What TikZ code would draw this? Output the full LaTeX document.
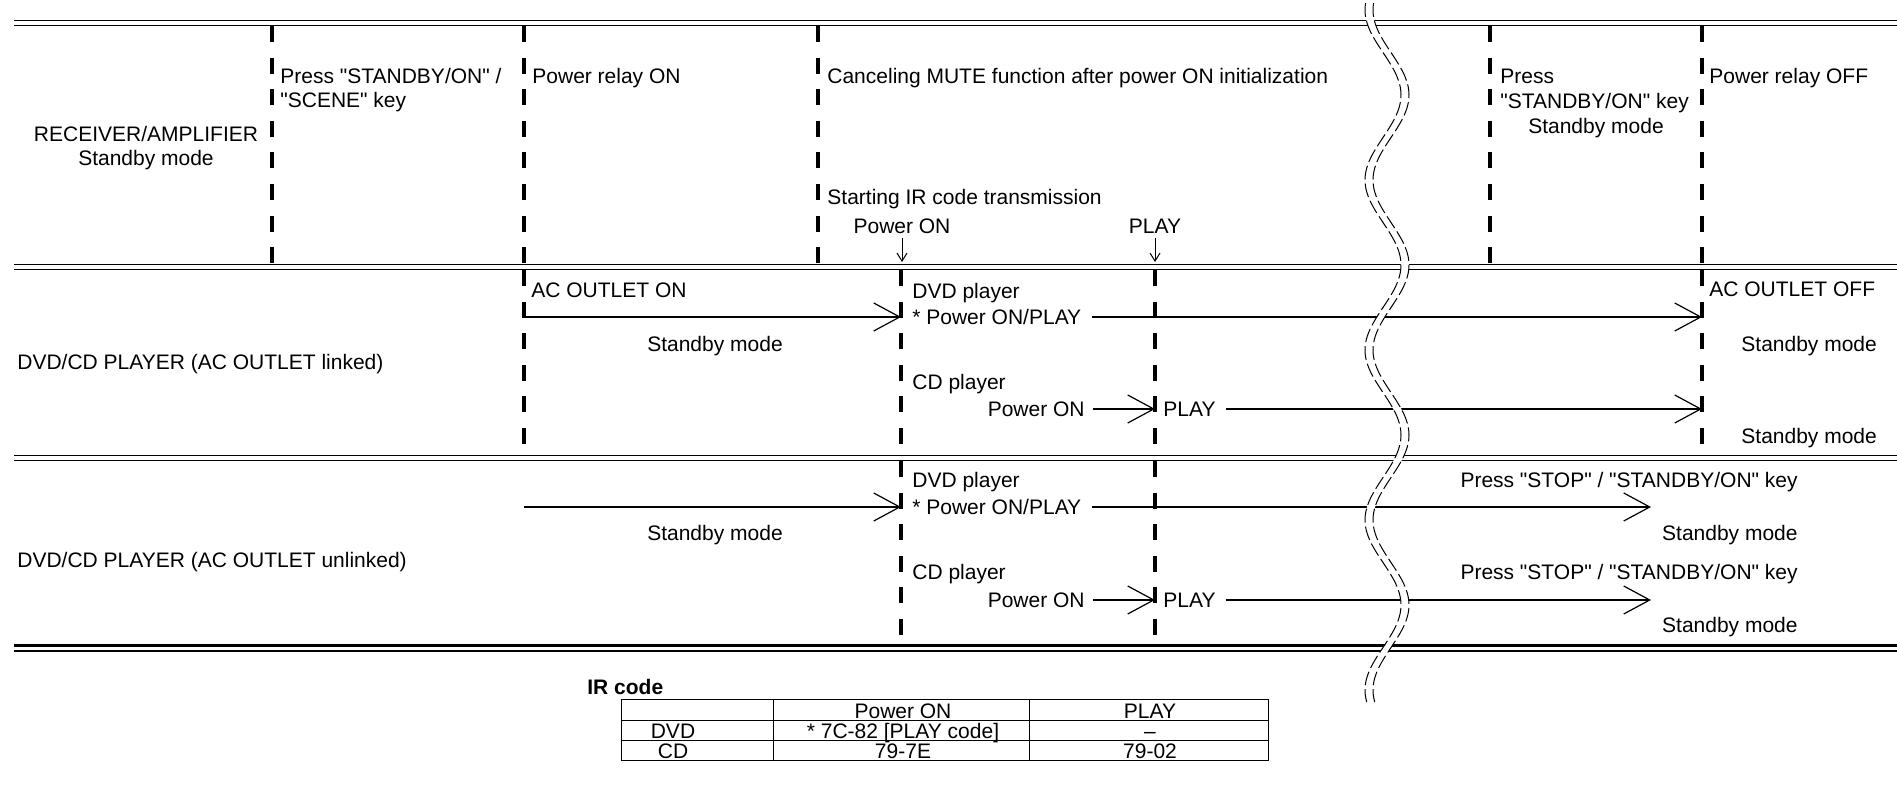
\documentclass[tikz,border=0pt]{standalone}
\usepackage{fontspec}
\setmainfont{Liberation Sans}[Ligatures=TeXOff]
\usetikzlibrary{arrows.meta}
\begin{document}
\begin{tikzpicture}[x=0.5pt,y=-0.5pt,
  t/.style={inner sep=0pt, text height=7.5pt, text depth=0pt, font=\fontsize{10.5}{12.6}\selectfont},
  hl/.style={line width=0.7pt},
  hlb/.style={line width=1.25pt},
  dashv/.style={line width=2pt, dash pattern=on 8pt off 7.8pt},
  arr/.style={line width=0.6pt, -{Straight Barb[length=13pt,width=14pt,line width=0.6pt]}},
  darr/.style={line width=0.5pt, -{Straight Barb[length=4pt,width=5pt,line width=0.5pt]}},
  wave/.style={line width=0.5pt, dash pattern=on 7pt off 2pt},
  tab/.style={line width=0.5pt}]
\useasboundingbox (0,0) rectangle (1897,785);

% ---------- horizontal rules ----------
\coordinate (L0a) at (14,20.5);  \coordinate (R0a) at (1897,20.5);
\coordinate (L0b) at (14,25.5);  \coordinate (R0b) at (1897,25.5);
\coordinate (L1a) at (14,264.5); \coordinate (R1a) at (1897,264.5);
\coordinate (L1b) at (14,269.5); \coordinate (R1b) at (1897,269.5);
\coordinate (L2a) at (14,455.5); \coordinate (R2a) at (1897,455.5);
\coordinate (L2b) at (14,460.5); \coordinate (R2b) at (1897,460.5);
\coordinate (L3a) at (14,645.5); \coordinate (R3a) at (1897,645.5);
\coordinate (L3b) at (14,651);   \coordinate (R3b) at (1897,651);
\draw[hl] (L0a) -- (R0a);
\draw[hl] (L0b) -- (R0b);
\draw[hl] (L1a) -- (R1a);
\draw[hl] (L1b) -- (R1b);
\draw[hl] (L2a) -- (R2a);
\draw[hl] (L2b) -- (R2b);
\draw[hlb] (L3a) -- (R3a);
\draw[hlb] (L3b) -- (R3b);

% ---------- vertical dashed lines ----------
% row 1
\coordinate (v1t) at (272,26);  \coordinate (v1b) at (272,264);
\coordinate (v2t) at (524,26);  \coordinate (v2b) at (524,264);
\coordinate (v3t) at (818,26);  \coordinate (v3b) at (818,264);
\coordinate (v6t) at (1490,26); \coordinate (v6b) at (1490,264);
\coordinate (v7t) at (1702,26); \coordinate (v7b) at (1702,264);
\draw[dashv] (v1t) -- (v1b);
\draw[dashv] (v2t) -- (v2b);
\draw[dashv] (v3t) -- (v3b);
\draw[dashv] (v6t) -- (v6b);
\draw[dashv] (v7t) -- (v7b);
% row 2
\coordinate (w2t) at (524,270);  \coordinate (w2b) at (524,455);
\coordinate (w4t) at (901,270);  \coordinate (w4b) at (901,455);
\coordinate (w5t) at (1155,270); \coordinate (w5b) at (1155,455);
\coordinate (w7t) at (1702,270); \coordinate (w7b) at (1702,455);
\draw[dashv] (w2t) -- (w2b);
\draw[dashv] (w4t) -- (w4b);
\draw[dashv] (w5t) -- (w5b);
\draw[dashv] (w7t) -- (w7b);
% row 3
\coordinate (u4t) at (901,461);  \coordinate (u4b) at (901,645);
\coordinate (u5t) at (1155,461); \coordinate (u5b) at (1155,645);
\draw[dashv] (u4t) -- (u4b);
\draw[dashv] (u5t) -- (u5b);

% ---------- row 1: receiver ----------
\node[t] (recv) at (146,134) {RECEIVER/AMPLIFIER};
\node[t] (recvsb) at (146,158) {Standby mode};
\node[t,anchor=west] (press1) at (280,76) {Press "STANDBY/ON" /};
\node[t,anchor=west] (scene) at (280,100) {"SCENE" key};
\node[t,anchor=west] (relayon) at (532,76) {Power relay ON};
\node[t,anchor=west] (cancel) at (827,76) {Canceling MUTE function after power ON initialization};
\node[t,anchor=west] (irstart) at (827,197) {Starting IR code transmission};
\node[t] (pon) at (902,226) {Power ON};
\node[t] (play) at (1155,226) {PLAY};
\node[t,anchor=west] (press2) at (1500,76) {Press};
\node[t,anchor=west] (press2b) at (1500,101) {"STANDBY/ON" key};
\node[t] (sb1) at (1596,126) {Standby mode};
\node[t,anchor=west] (relayoff) at (1709,76) {Power relay OFF};
\coordinate (ponA) at (902,262);
\coordinate (playA) at (1155,262);
\draw[darr] ([yshift=-2pt]pon.south) -- (ponA);
\draw[darr] ([yshift=-2pt]play.south) -- (playA);

% ---------- row 2: linked ----------
\node[t,anchor=west] (lnk) at (17,362) {DVD/CD PLAYER (AC OUTLET linked)};
\node[t,anchor=west] (acon) at (531,290) {AC OUTLET ON};
\coordinate (r2s) at (524,317);
\node[t] (sb2) at (715,344) {Standby mode};
\node[t,anchor=west] (dvd2) at (912,291) {DVD player};
\node[t,anchor=west] (dvdpp2) at (912,317) {* Power ON/PLAY};
\node[t,anchor=west] (cd2) at (912,382) {CD player};
\node[t,anchor=east] (cdpon2) at (1085,409) {Power ON};
\node[t,anchor=west] (cdplay2) at (1163,409) {PLAY};
\node[t,anchor=west] (acoff) at (1709,289) {AC OUTLET OFF};
\node[t,anchor=west] (sb2r1) at (1741,344) {Standby mode};
\node[t,anchor=west] (sb2r2) at (1741,436) {Standby mode};
\draw[arr] (r2s) -- (r2s -| w4t);
\draw[arr] ([xshift=5pt]dvdpp2.east) -- (dvdpp2.east -| w7t);
\draw[arr] ([xshift=4pt]cdpon2.east) -- (cdpon2.east -| w5t);
\draw[arr] ([xshift=5pt]cdplay2.east) -- (cdplay2.east -| w7t);

% ---------- row 3: unlinked ----------
\node[t,anchor=west] (unl) at (17,560) {DVD/CD PLAYER (AC OUTLET unlinked)};
\coordinate (r3s) at (524,507);
\coordinate (e3) at (1651,507);
\node[t] (sb3) at (715,533) {Standby mode};
\node[t,anchor=west] (dvd3) at (912,480) {DVD player};
\node[t,anchor=west] (dvdpp3) at (912,507) {* Power ON/PLAY};
\node[t,anchor=west] (cd3) at (912,572) {CD player};
\node[t,anchor=east] (cdpon3) at (1085,600) {Power ON};
\node[t,anchor=west] (cdplay3) at (1163,600) {PLAY};
\node[t,anchor=east] (stop1) at (1798,480) {Press "STOP" / "STANDBY/ON" key};
\node[t,anchor=east] (sb3r1) at (1798,533) {Standby mode};
\node[t,anchor=east] (stop2) at (1798,572) {Press "STOP" / "STANDBY/ON" key};
\node[t,anchor=east] (sb3r2) at (1798,625) {Standby mode};
\draw[arr] (r3s) -- (r3s -| u4t);
\draw[arr] ([xshift=5pt]dvdpp3.east) -- (e3);
\draw[arr] ([xshift=4pt]cdpon3.east) -- (cdpon3.east -| u5t);
\draw[arr] ([xshift=5pt]cdplay3.east) -- (cdplay3.east -| e3);

% ---------- break symbol ----------
\fill[white] plot[domain=3:702,samples=200] ({1383-18*cos((\x-10)*2.1176)},\x)
  -- plot[domain=702:3,samples=200] ({1391-18*cos((\x-10)*2.1176)},\x) -- cycle;
\draw[wave] plot[domain=3:702,samples=200,smooth] ({1383-18*cos((\x-10)*2.1176)},\x);
\draw[wave] plot[domain=3:702,samples=200,smooth] ({1391-18*cos((\x-10)*2.1176)},\x);

% ---------- IR code table ----------
\node[t,anchor=west,font=\fontsize{10.5}{12.6}\selectfont\bfseries] (irc) at (587,687) {IR code};
\draw[tab] (621,700) rectangle (1268,761);
\draw[tab] (621,721) -- (1268,721);
\draw[tab] (621,741) -- (1268,741);
\draw[tab] (773,700) -- (773,761);
\draw[tab] (1029,700) -- (1029,761);
\node[t] (hpon) at (903,711) {Power ON};
\node[t] (hplay) at (1150,711) {PLAY};
\node[t] (cdvd) at (673,731) {DVD};
\node[t] (dvdpon) at (903,731) {* 7C-82 [PLAY code]};
\node[t] (dvdplay) at (1150,731) {–};
\node[t] (ccd) at (673,751) {CD};
\node[t] (cdponv) at (903,751) {79-7E};
\node[t] (cdplayv) at (1150,751) {79-02};
\end{tikzpicture}
\end{document}
